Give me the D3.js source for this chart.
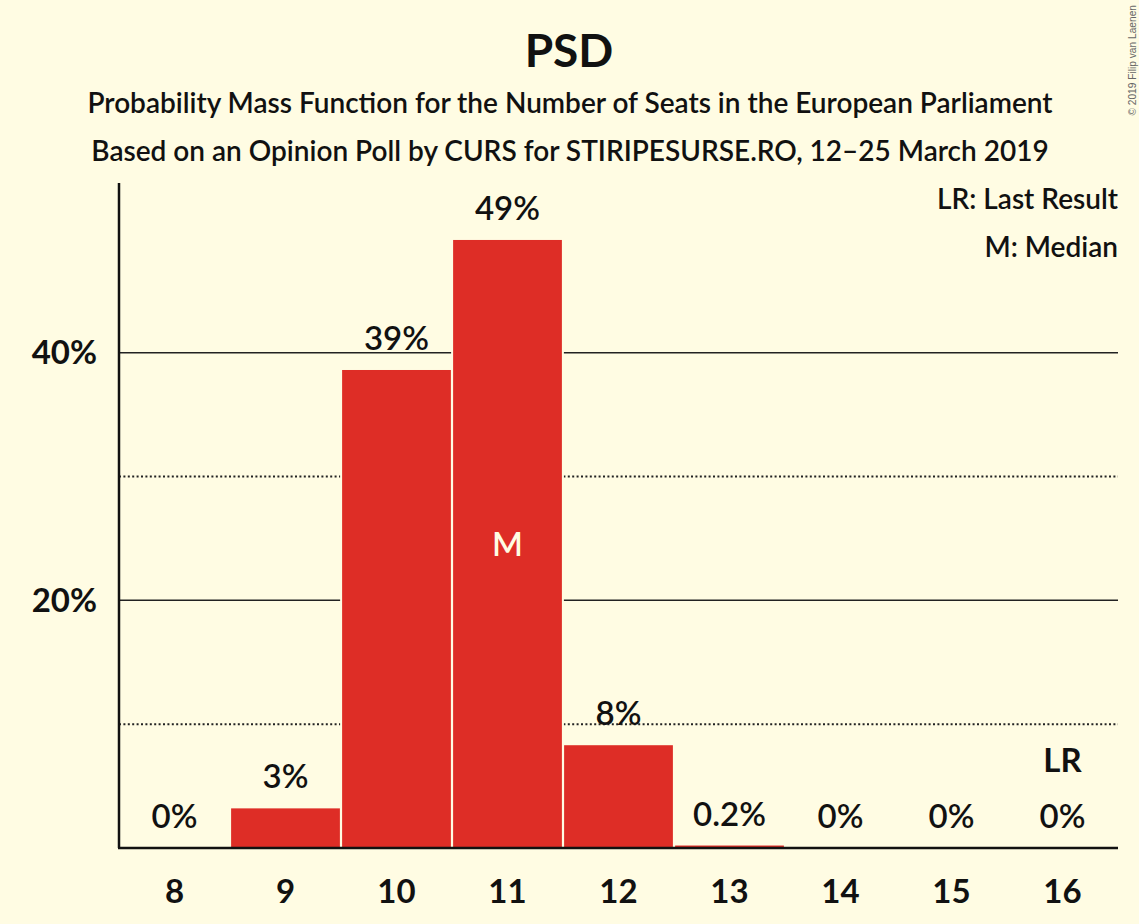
<!DOCTYPE html>
<html>
<head>
<meta charset="utf-8">
<script src="https://cdn.jsdelivr.net/npm/d3@7.9.0/dist/d3.min.js"></script>
<style>
  html, body { margin: 0; padding: 0; background: #FFFCE3; }
  svg { display: block; font-family: Lato, "Open Sans", sans-serif; }
</style>
</head>
<body>
<svg id="chart" width="1139" height="924"></svg>
<script>
// === Data ===
const seats = [8, 9, 10, 11, 12, 13, 14, 15, 16];
const probabilities = [0, 3.2, 38.6, 49.1, 8.3, 0.2, 0, 0, 0];
const yTicks = [10, 20, 30, 40];
const yTickLabels = ['', '20%', '', '40%'];
const medianSeat = 11;
const lastResultSeat = 16;

const bg = '#FFFCE3';
const red = '#DE2D26';
const ink = '#111111';

const svg = d3.select('#chart');
const plotLeft = 119, plotRight = 1118, plotTop = 183, plotBottom = 848;

// === Scales ===
const x = d3.scaleBand()
  .domain(seats)
  .range([plotLeft, plotRight])
  .paddingInner(0.02)
  .paddingOuter(0.01);

const y = d3.scaleLinear()
  .domain([0, 53.7])
  .range([plotBottom, plotTop]);

function fmt(v) {
  if (v === 0) return '0%';
  if (v < 1) return v.toFixed(1) + '%';
  return Math.round(v) + '%';
}

// === Titles ===
svg.append('text')
  .attr('x', 569).attr('y', 67)
  .attr('text-anchor', 'middle')
  .attr('font-size', 46).attr('font-weight', 700)
  .attr('fill', ink)
  .text('PSD');

svg.append('text')
  .attr('x', 570).attr('y', 113)
  .attr('text-anchor', 'middle')
  .attr('font-size', 28).attr('font-weight', 600)
  .attr('fill', ink)
  .text('Probability Mass Function for the Number of Seats in the European Parliament');

svg.append('text')
  .attr('x', 570).attr('y', 161)
  .attr('text-anchor', 'middle')
  .attr('font-size', 28).attr('font-weight', 600)
  .attr('fill', ink)
  .text('Based on an Opinion Poll by CURS for STIRIPESURSE.RO, 12–25 March 2019');

// copyright
svg.append('text')
  .attr('transform', 'translate(1136,5) rotate(-90)')
  .attr('text-anchor', 'end')
  .attr('font-family', '"Liberation Sans", Arial, sans-serif')
  .attr('font-size', 10.2)
  .attr('fill', '#666')
  .text('© 2019 Filip van Laenen');

// === Gridlines ===
svg.selectAll('.grid')
  .data(yTicks)
  .join('line')
  .attr('class', 'grid')
  .attr('x1', plotLeft).attr('x2', plotRight)
  .attr('y1', d => y(d)).attr('y2', d => y(d))
  .attr('stroke', '#222')
  .attr('stroke-width', d => d % 20 === 0 ? 1.5 : 2)
  .attr('stroke-dasharray', d => d % 20 === 0 ? null : '2,2.4');

// y tick labels
svg.selectAll('.ylab')
  .data(yTicks.filter((d, i) => yTickLabels[i]))
  .join('text')
  .attr('class', 'ylab')
  .attr('x', 97)
  .attr('y', d => y(d))
  .attr('dy', '0.35em')
  .attr('text-anchor', 'end')
  .attr('font-size', 33).attr('font-weight', 700)
  .attr('fill', ink)
  .text(d => yTickLabels[yTicks.indexOf(d)]);

// === Bars ===
const data = seats.map((s, i) => ({ seat: s, value: probabilities[i] }));

// background-coloured halo behind bars hides gridlines
svg.selectAll('.halo')
  .data(data.filter(d => d.value > 0))
  .join('rect')
  .attr('class', 'halo')
  .attr('x', d => x(d.seat) - 2)
  .attr('width', x.bandwidth() + 4)
  .attr('y', d => y(d.value))
  .attr('height', d => y(0) - y(d.value))
  .attr('fill', bg);

svg.selectAll('.bar')
  .data(data.filter(d => d.value > 0))
  .join('rect')
  .attr('class', 'bar')
  .attr('x', d => x(d.seat))
  .attr('width', x.bandwidth())
  .attr('y', d => y(d.value))
  .attr('height', d => y(0) - y(d.value))
  .attr('fill', red);

// value labels
svg.selectAll('.vlab')
  .data(data)
  .join('text')
  .attr('class', 'vlab')
  .attr('x', d => x(d.seat) + x.bandwidth() / 2)
  .attr('y', d => y(d.value) - 20)
  .attr('text-anchor', 'middle')
  .attr('font-size', 33).attr('font-weight', 600)
  .attr('fill', ink)
  .text(d => fmt(d.value));

// median marker
const med = data.find(d => d.seat === medianSeat);
svg.append('text')
  .attr('x', x(medianSeat) + x.bandwidth() / 2)
  .attr('y', (y(med.value) + y(0)) / 2)
  .attr('dy', '0.36em')
  .attr('text-anchor', 'middle')
  .attr('font-size', 33).attr('font-weight', 600)
  .attr('fill', bg)
  .text('M');

// last result marker
svg.append('text')
  .attr('x', x(lastResultSeat) + x.bandwidth() / 2)
  .attr('y', y(0) - 76)
  .attr('text-anchor', 'middle')
  .attr('font-size', 33).attr('font-weight', 700)
  .attr('fill', ink)
  .text('LR');

// === Axes ===
svg.append('line')
  .attr('x1', plotLeft).attr('x2', plotLeft)
  .attr('y1', plotTop).attr('y2', plotBottom)
  .attr('stroke', ink).attr('stroke-width', 2.5);

svg.append('line')
  .attr('x1', plotLeft - 1).attr('x2', plotRight)
  .attr('y1', plotBottom).attr('y2', plotBottom)
  .attr('stroke', ink).attr('stroke-width', 2.5);

svg.selectAll('.xlab')
  .data(seats)
  .join('text')
  .attr('class', 'xlab')
  .attr('x', d => x(d) + x.bandwidth() / 2)
  .attr('y', 903)
  .attr('text-anchor', 'middle')
  .attr('font-size', 33).attr('font-weight', 700)
  .attr('fill', ink)
  .text(d => d);

// === Legend ===
svg.append('text')
  .attr('x', plotRight).attr('y', 209)
  .attr('text-anchor', 'end')
  .attr('font-size', 28).attr('font-weight', 600)
  .attr('fill', ink)
  .text('LR: Last Result');

svg.append('text')
  .attr('x', plotRight).attr('y', 257)
  .attr('text-anchor', 'end')
  .attr('font-size', 28).attr('font-weight', 600)
  .attr('fill', ink)
  .text('M: Median');
</script>
</body>
</html>
